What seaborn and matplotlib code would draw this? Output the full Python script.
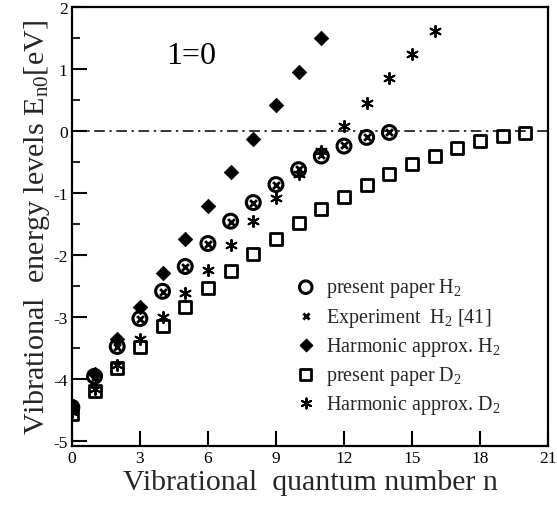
import numpy as np
import pandas as pd
import matplotlib
matplotlib.use("Agg")
import matplotlib.pyplot as plt
import seaborn as sns

# Vibrational levels E_n0 (eV) for l = 0
n_h2 = list(range(0, 15))
present_h2 = [-4.45, -3.95, -3.47, -3.02, -2.58, -2.18, -1.81, -1.45, -1.15, -0.86, -0.62, -0.40, -0.24, -0.10, -0.02]
exper_h2 = [-4.48, -3.96, -3.48, -3.02, -2.59, -2.19, -1.82, -1.46, -1.16, -0.87, -0.61, -0.39, -0.23, -0.10, -0.02]

n_harm_h2 = list(range(0, 12))
harm_h2 = [-4.45, -3.92, -3.35, -2.83, -2.28, -1.74, -1.21, -0.66, -0.13, 0.42, 0.96, 1.50]

n_d2 = list(range(0, 21))
present_d2 = [-4.55, -4.18, -3.81, -3.47, -3.14, -2.84, -2.53, -2.26, -1.98, -1.73, -1.48,
              -1.26, -1.06, -0.87, -0.69, -0.53, -0.40, -0.27, -0.16, -0.08, -0.03]

n_harm_d2 = list(range(0, 17))
harm_d2 = [-4.53, -4.15, -3.76, -3.35, -2.99, -2.60, -2.23, -1.84, -1.45, -1.07, -0.69,
           -0.32, 0.08, 0.46, 0.85, 1.24, 1.62]

x_ticks = [0, 3, 6, 9, 12, 15, 18, 21]
y_ticks = [-5, -4, -3, -2, -1, 0, 1, 2]

sns.set_theme(style="white")
plt.rcParams["font.family"] = ["Liberation Serif", "DejaVu Serif"]
plt.rcParams["mathtext.fontset"] = "custom"
plt.rcParams["mathtext.rm"] = "Liberation Serif"
plt.rcParams["mathtext.it"] = "Liberation Serif:italic"

fig = plt.figure(figsize=(5.57, 5.06), dpi=100)
ax = fig.add_axes([0.129, 0.117, 0.855, 0.867])

ax.axhline(0, color="black", lw=1.1, ls=(0, (7, 3, 1.5, 3)), zorder=1)

asterisk = (6, 2, 0)

sns.scatterplot(x=n_harm_d2, y=harm_d2, ax=ax, marker=asterisk, s=65,
                color="black", linewidth=1.4, label="Harmonic approx. D$_2$", zorder=2)
sns.scatterplot(x=n_d2, y=present_d2, ax=ax, marker="s", s=75, facecolor="none",
                edgecolor="black", linewidth=2.0, label="present paper D$_2$", zorder=3)
sns.scatterplot(x=n_harm_h2, y=harm_h2, ax=ax, marker="D", s=55, color="black",
                edgecolor="black", linewidth=0.5, label="Harmonic approx. H$_2$", zorder=3)
sns.scatterplot(x=n_h2, y=present_h2, ax=ax, marker="o", s=100, facecolor="none",
                edgecolor="black", linewidth=2.2, label="present paper H$_2$", zorder=4)
sns.scatterplot(x=n_h2, y=exper_h2, ax=ax, marker="x", s=24, color="black",
                linewidth=2.0, label="Experiment  H$_2$ [41]", zorder=5)

handles, labels = ax.get_legend_handles_labels()
order = [3, 4, 2, 1, 0]
leg = ax.legend([handles[i] for i in order], [labels[i] for i in order],
                loc="upper left", bbox_to_anchor=(0.470, 0.386), frameon=False,
                fontsize=14.5, handletextpad=0.5, labelspacing=0.30, handlelength=1.0,
                borderaxespad=0.0, borderpad=0.0, markerscale=0.9)

ax.set_xlim(0, 21)
ax.set_ylim(-5.07, 2)
ax.set_xticks(x_ticks)
ax.set_xticklabels([str(t) for t in x_ticks])
ax.set_yticks(y_ticks)
ax.set_yticklabels([str(t) for t in y_ticks])
ax.set_yticks(np.arange(-4.5, 2, 1.0), minor=True)

ax.tick_params(axis="both", which="major", direction="in", length=11, width=1.5,
               labelsize=12.5, colors="black", bottom=True, left=True, top=False, right=False)
ax.tick_params(axis="y", which="minor", direction="in", length=6, width=1.5, left=True)
ax.tick_params(axis="x", pad=3)
ax.tick_params(axis="y", pad=3)

for sp in ax.spines.values():
    sp.set_color("black")
    sp.set_linewidth(1.6)

ax.set_xlabel("Vibrational  quantum number n", fontsize=21.5, labelpad=2)
ax.set_ylabel("Vibrational  energy levels E$_{\\mathrm{n0}}$[eV]", fontsize=21.7, labelpad=1)

ax.text(0.199, 0.872, "1=0", transform=ax.transAxes, fontsize=23, color="black")

fig.savefig("out.png", dpi=100)
